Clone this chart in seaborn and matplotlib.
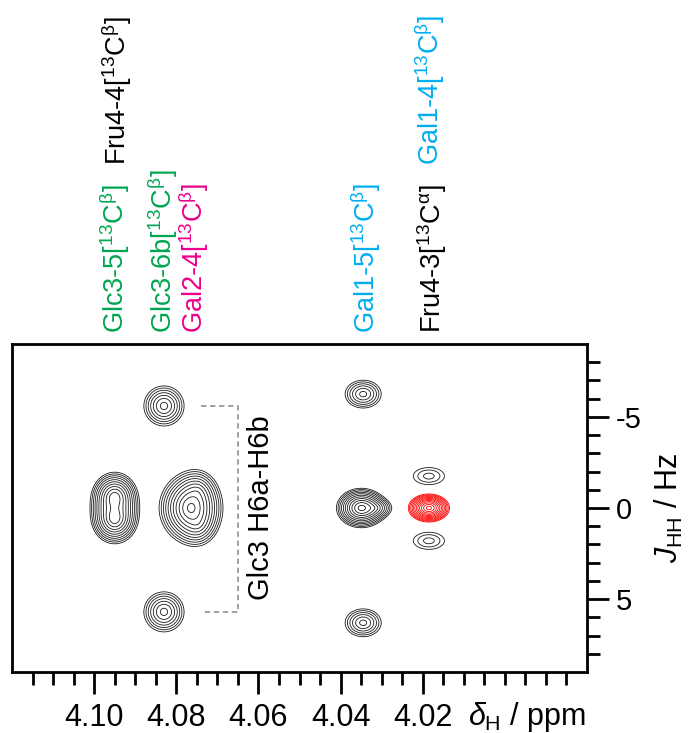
import numpy as np
import matplotlib
matplotlib.use("Agg")
import matplotlib.pyplot as plt
import matplotlib.transforms as mtransforms
import seaborn as sns

# cross peaks of the black spectrum: centre (ppm, Hz), widths (ppm, Hz), height
peak_ppm = [4.0950, 4.0950, 4.0765, 4.0748, 4.0748, 4.0830, 4.0830,
            4.0350, 4.0318, 4.0345, 4.0345, 4.0185, 4.0185]
peak_hz = [-0.6, 0.6, 0.0, -0.9, 0.9, -5.6, 5.7,
           0.0, 0.0, -6.25, 6.3, -1.75, 1.8]
peak_sx = [0.0030, 0.0030, 0.0040, 0.0028, 0.0028, 0.00343, 0.00343,
           0.0031, 0.0030, 0.00345, 0.00345, 0.0050, 0.0050]
peak_sy = [0.74, 0.74, 1.0, 0.75, 0.75, 0.77, 0.77,
           0.56, 0.36, 0.60, 0.60, 0.62, 0.62]
peak_amp = [12.0, 12.0, 14.0, 3.0, 3.0, 5.5, 5.5,
            14.5, 3.5, 4.2, 4.2, 1.93, 1.93]

# red spectrum
red_ppm = [4.0185]
red_hz = [0.0]
red_sx = [0.0024]
red_sy = [0.369]
red_amp = [20.4]

# assignments written above the spectrum
label_text = [
    r"Glc3-5[$^{\mathrm{13}}$C$^{\mathrm{\beta}}$]",
    r"Glc3-6b[$^{\mathrm{13}}$C$^{\mathrm{\beta}}$]",
    r"Gal2-4[$^{\mathrm{13}}$C$^{\mathrm{\beta}}$]",
    r"Gal1-5[$^{\mathrm{13}}$C$^{\mathrm{\beta}}$]",
    r"Fru4-3[$^{\mathrm{13}}$C$^{\mathrm{\alpha}}$]",
    r"Fru4-4[$^{\mathrm{13}}$C$^{\mathrm{\beta}}$]",
    r"Gal1-4[$^{\mathrm{13}}$C$^{\mathrm{\beta}}$]",
]
label_ppm = [4.0949, 4.0834, 4.0757, 4.0339, 4.0178, 4.0946, 4.0183]
label_row = [0, 0, 0, 0, 0, 1, 1]
label_color = ["#00a651", "#00a651", "#ec008c", "#00aeef", "#000000", "#000000", "#00aeef"]

x_major = [4.10, 4.08, 4.06, 4.04, 4.02]
y_major = [-5, 0, 5]


def spectrum(X, Y, ppm, hz, sx, sy, amp, shape=1.5):
    Z = np.zeros_like(X)
    for x0, y0, a, b, h in zip(ppm, hz, sx, sy, amp):
        d = np.sqrt(((X - x0) / a) ** 2 + ((Y - y0) / b) ** 2)
        Z += h * np.exp(-d ** shape)
    return Z


sns.set_theme(style="ticks")
plt.rcParams["font.family"] = ["Liberation Sans", "DejaVu Sans"]
plt.rcParams["mathtext.fontset"] = "custom"
plt.rcParams["mathtext.rm"] = "Liberation Sans"
plt.rcParams["mathtext.it"] = "Liberation Sans:italic"
plt.rcParams["mathtext.bf"] = "Liberation Sans:bold"
plt.rcParams["text.color"] = "black"
plt.rcParams["axes.labelcolor"] = "black"

fig = plt.figure(figsize=(6.94, 7.33), dpi=100)
ax = fig.add_axes([12 / 694, 1 - 672 / 733, 575 / 694, 328 / 733])

xs = np.linspace(3.98, 4.12, 1400)
ys = np.linspace(-9, 9, 900)
X, Y = np.meshgrid(xs, ys)
levels = 1.3 ** np.arange(0, 14)

Zb = spectrum(X, Y, peak_ppm, peak_hz, peak_sx, peak_sy, peak_amp)
Zr = spectrum(X, Y, red_ppm, red_hz, red_sx, red_sy, red_amp)
ax.contour(X, Y, Zb, levels=levels, colors="#1a1a1a", linewidths=0.6)
ax.contour(X, Y, Zr, levels=levels, colors="#ff0000", linewidths=0.6)

ax.set_xlim(4.12, 3.98)
ax.set_ylim(9, -9)

# Glc3 H6a-H6b bracket
bx0 = peak_ppm[5] - 0.0089
bx1 = peak_ppm[5] - 0.0181
ax.plot([bx0, bx1, bx1, bx0], [peak_hz[5], peak_hz[5], peak_hz[6], peak_hz[6]],
        color="#999999", ls=(0, (3, 2)), lw=1.3)
ax.text(bx1 - 0.0055, 0, "Glc3 H6a-H6b", rotation=90, ha="center", va="center",
        fontsize=21, color="black")

# ticks
ax.set_xticks(x_major)
ax.set_xticklabels([f"{v:.2f}" for v in x_major])
ax.set_xticks([v for v in np.arange(3.985, 4.1175, 0.005) if min(abs(v - m) for m in x_major) > 1e-4],
              minor=True)
ax.yaxis.tick_right()
ax.set_yticks(y_major)
ax.set_yticklabels([f"{v:d}" for v in y_major])
ax.set_yticks([v for v in range(-8, 9) if v not in y_major], minor=True)
ax.tick_params(axis="both", which="major", direction="out", length=16, width=2,
               labelsize=22, color="black", labelcolor="black")
ax.tick_params(axis="both", which="minor", direction="out", length=9, width=2, color="black")
ax.tick_params(axis="x", which="major", pad=6)
ax.tick_params(axis="y", which="major", labelsize=21, pad=5)
for s in ax.spines.values():
    s.set_linewidth(2.0)
    s.set_color("black")

ax.yaxis.set_label_position("right")
ax.set_ylabel(r"$J_{\mathrm{HH}}$ / Hz", fontsize=22, rotation=90, labelpad=8)
ax.text(0.896, -0.085, r"$\delta_{\mathrm{H}}$ / ppm", transform=ax.transAxes,
        ha="center", va="top", fontsize=22)

# assignment labels above the frame
trans = mtransforms.blended_transform_factory(ax.transData, ax.transAxes)
for txt, xp, row, col in zip(label_text, label_ppm, label_row, label_color):
    ax.text(xp, 1.034 if row == 0 else 1.546, txt, transform=trans, rotation=90,
            ha="center", va="bottom", fontsize=19.5, color=col)

fig.savefig("out.png", dpi=100)
